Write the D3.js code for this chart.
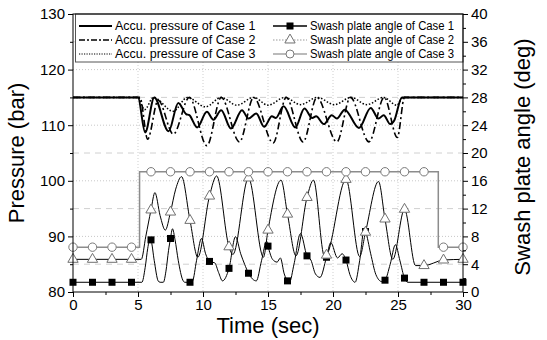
<!DOCTYPE html>
<html><head><meta charset="utf-8">
<script src="https://cdn.jsdelivr.net/npm/d3@7"></script>
<style>
body{margin:0;background:#fff}
svg{display:block}
text{font-family:Arial,"Liberation Sans",sans-serif;fill:#000}
</style>
</head><body>
<svg id="c" width="547" height="340"></svg>
<script>
// ---------- data ----------
const markerTimes = [0,1.5,3,4.5,6,7.5,9,10.5,12,13.5,15,16.5,18,19.5,21,22.5,24,25.5,27,28.5,30];

// Accumulator pressure (bar)
const pressCase1 = [[0,115],[5,115],[5.55,108.7],[6.25,115],[7.35,108.9],[8.1,114.0],[8.7,112.0],[8.95,111.8],[9.55,109.6],[10.3,112.4],[10.8,111.0],[11.4,112.7],[12.15,109.4],[13.0,112.7],[13.5,111.2],[14.1,112.1],[14.7,109.7],[15.3,111.6],[15.6,111.3],[16.2,113.4],[17.1,109.6],[17.8,113.0],[18.4,111.3],[18.7,111.6],[19.3,110.2],[19.9,111.8],[20.3,111.2],[20.9,112.8],[22.0,109.5],[22.9,113.1],[23.5,111.2],[23.9,111.8],[24.4,110.2],[24.7,110.8],[25.3,115],[30,115]];
const pressCase2 = [[0,115],[5.15,115],[5.74,107.5],[6.55,114.5],[7.72,108.4],[8.95,115],[10.3,106.3],[11.4,115],[12.8,107.0],[13.9,115],[15.4,106.8],[16.4,115],[17.7,107.0],[18.76,115],[20.3,107.0],[21.34,115],[22.77,107.0],[23.94,115],[24.95,107.8],[25.5,115],[30,115]];
const pressCase3 = [[0,115],[5.0,115],[5.5,112.8],[6.2,115],[7.7,112.5],[8.8,115],[10.2,113.3],[11.4,115],[12.6,113.6],[13.9,115],[15.0,113.6],[16.3,115],[17.5,113.7],[18.8,115],[20.1,113.7],[21.4,115],[22.6,113.7],[23.9,115],[24.9,113.6],[25.4,115],[30,115]];

// Swash plate angle (deg)
const angleCase1 = [[0,1.4],[1.5,1.4],[3,1.4],[4.5,1.4],[5.3,1.4],[5.55,3.5],[5.75,6.3],[5.92,7.7],[6,7.5],[6.25,4.5],[6.55,1.6],[6.7,1.4],[6.95,1.4],[7.15,3.0],[7.35,6.0],[7.5,7.7],[7.65,9.1],[7.85,7.5],[8.1,4.5],[8.45,1.7],[8.6,1.4],[9,1.4],[9.2,1.6],[9.5,4.5],[9.88,7.7],[10.2,5.5],[10.5,4.4],[10.9,4.2],[11.2,2.8],[11.5,1.6],[12,3.4],[12.5,7.95],[12.9,5.5],[13.2,4.0],[13.5,2.7],[14.1,1.6],[14.5,4.5],[14.9,7.3],[15,6.6],[15.35,4.7],[15.7,4.3],[15.95,4.9],[16.25,2.6],[16.5,1.6],[16.65,1.4],[17.0,4.0],[17.5,8.4],[18,5.2],[18.3,4.6],[18.65,2.6],[19.0,2.1],[19.5,5.0],[19.83,7.1],[20.35,4.9],[20.7,5.5],[21,4.6],[21.3,2.5],[21.7,1.4],[22.05,4.5],[22.4,9.0],[22.5,8.7],[22.9,5.5],[23.3,2.5],[23.75,1.5],[24,1.7],[24.4,4.0],[24.8,6.8],[25.15,4.5],[25.5,2.0],[25.75,1.4],[27,1.4],[28.5,1.4],[30,1.4]];
const angleCase2 = [[0,4.7],[1.5,4.7],[3,4.7],[4.5,4.7],[5.25,4.7],[5.6,8.0],[6,11.8],[6.3,14.3],[6.7,11.0],[7.1,8.9],[7.5,11.5],[7.9,14.8],[8.35,16.6],[9,10.3],[9.6,5.0],[10.5,13.8],[11.05,16.7],[12,6.5],[12.3,5.4],[13.5,16.4],[14.65,5.0],[15,8.9],[16,16.1],[16.5,11.2],[17.15,5.2],[18,13.6],[18.5,16.1],[19.35,5.1],[19.5,5.3],[21,16.2],[22.05,5.1],[22.5,8.6],[23.5,15.9],[24,10.5],[24.6,4.7],[25.5,11.9],[26.35,3.8],[27,3.8],[28.5,4.6],[30,4.7]];
const angleCase3 = [[0,6.45],[5.12,17.3],[28.1,6.45],[30,6.45]];
const case3Markers = [6.45,6.45,6.45,6.45,17.3,17.3,17.3,17.3,17.3,17.3,17.3,17.3,17.3,17.3,17.3,17.3,17.3,17.3,17.3,6.45,6.45];

const xTicks = [0,5,10,15,20,25,30];
const xMinor = [2.5,7.5,12.5,17.5,22.5,27.5];
const pTicks = [80,90,100,110,120,130];
const pMinor = [85,95,105,115,125];
const aTicks = [0,4,8,12,16,20,24,28,32,36,40];
const aMinor = [2,6,10,14,18,22,26,30,34,38];

const legendLeft = ["Accu. pressure of Case 1","Accu. pressure of Case 2","Accu. pressure of Case 3"];
const legendRight = ["Swash plate angle of Case 1","Swash plate angle of Case 2","Swash plate angle of Case 3"];

// ---------- layout ----------
const L=73, R=463, T=14, B=292;
const svg = d3.select("#c");
const x = d3.scaleLinear([0,30],[L,R]);
const yP = d3.scaleLinear([80,130],[B,T]);
const yA = d3.scaleLinear([0,40],[B,T]);

// grid
const g = svg.append("g");
g.selectAll(".hmaj").data(pTicks.filter(v=>v>80&&v<130)).join("line")
  .attr("x1",L).attr("x2",R).attr("y1",d=>yP(d)).attr("y2",d=>yP(d))
  .attr("stroke","#c8c8c8").attr("stroke-width",1).attr("stroke-dasharray","1,2");
g.selectAll(".hmin").data(pMinor).join("line")
  .attr("x1",L).attr("x2",R).attr("y1",d=>yP(d)).attr("y2",d=>yP(d))
  .attr("stroke","#d0d0d0").attr("stroke-width",1).attr("stroke-dasharray","6,5");
g.selectAll(".vmaj").data(xTicks.filter(v=>v>0&&v<30)).join("line")
  .attr("y1",T).attr("y2",B).attr("x1",d=>x(d)).attr("x2",d=>x(d))
  .attr("stroke","#cfcfcf").attr("stroke-width",1).attr("stroke-dasharray","1,2");

// pressure lines
const lineP = d3.line().x(d=>x(d[0])).y(d=>yP(d[1])).curve(d3.curveMonotoneX);
svg.append("path").attr("d",lineP(pressCase3)).attr("fill","none").attr("stroke","#000").attr("stroke-width",1.5).attr("stroke-dasharray","1.5,1.8");
svg.append("path").attr("d",lineP(pressCase2)).attr("fill","none").attr("stroke","#000").attr("stroke-width",1.6).attr("stroke-dasharray","7,3,2,3");
svg.append("path").attr("d",lineP(pressCase1)).attr("fill","none").attr("stroke","#000").attr("stroke-width",2);

// angle lines
const lineA = d3.line().x(d=>x(d[0])).y(d=>yA(d[1])).curve(d3.curveMonotoneX);
const stepA = d3.line().x(d=>x(d[0])).y(d=>yA(d[1])).curve(d3.curveStepAfter);
svg.append("path").attr("d",stepA(angleCase3)).attr("fill","none").attr("stroke","#8c8c8c").attr("stroke-width",1.5);
svg.append("path").attr("d",lineA(angleCase1)).attr("fill","none").attr("stroke","#000").attr("stroke-width",1);
svg.append("path").attr("d",lineA(angleCase2)).attr("fill","none").attr("stroke","#000").attr("stroke-width",1);

// markers
const m1 = angleCase1.filter(d=>markerTimes.includes(d[0]));
const m2 = angleCase2.filter(d=>markerTimes.includes(d[0]));
const m3 = markerTimes.map((t,i)=>[t,case3Markers[i]]);
svg.selectAll(".sq").data(m1).join("rect")
  .attr("x",d=>x(d[0])-3.5).attr("y",d=>yA(d[1])-3.5).attr("width",7).attr("height",7).attr("fill","#000");
const tri = d3.symbol().type(d3.symbolTriangle).size(46);
svg.selectAll(".tr").data(m2).join("path").attr("d",tri)
  .attr("transform",d=>`translate(${x(d[0])},${yA(d[1])})`)
  .attr("fill","#fff").attr("stroke","#707070").attr("stroke-width",1);
svg.selectAll(".ci").data(m3).join("circle")
  .attr("cx",d=>x(d[0])).attr("cy",d=>yA(d[1])).attr("r",4.2)
  .attr("fill","#fff").attr("stroke","#7a7a7a").attr("stroke-width",1);

// legend
const lg = svg.append("g");
lg.append("rect").attr("x",75.5).attr("y",T).attr("width",R-75.5).attr("height",48).attr("fill","#fff").attr("stroke","#555").attr("stroke-width",1);
const rows = [26,40,54];
const pStyles = [{w:2,d:null},{w:1.5,d:"6,2,2,2"},{w:1.2,d:"1.2,1.3"}];
legendLeft.forEach((s,i)=>{
  lg.append("line").attr("x1",79).attr("x2",112).attr("y1",rows[i]).attr("y2",rows[i])
    .attr("stroke","#000").attr("stroke-width",pStyles[i].w).attr("stroke-dasharray",pStyles[i].d);
  lg.append("text").attr("x",115).attr("y",rows[i]).attr("dy","0.35em").attr("font-size",12.5).text(s);
});
const aL1=273, aL2=307;
lg.append("line").attr("x1",aL1).attr("x2",aL2).attr("y1",rows[0]).attr("y2",rows[0]).attr("stroke","#000").attr("stroke-width",1.5);
lg.append("rect").attr("x",(aL1+aL2)/2-3.5).attr("y",rows[0]-3.5).attr("width",7).attr("height",7).attr("fill","#000");
lg.append("line").attr("x1",aL1).attr("x2",aL2).attr("y1",rows[1]).attr("y2",rows[1]).attr("stroke","#999").attr("stroke-width",1).attr("stroke-dasharray","1.5,1.5");
lg.append("path").attr("d",tri).attr("transform",`translate(${(aL1+aL2)/2},${rows[1]})`).attr("fill","#fff").attr("stroke","#707070");
lg.append("line").attr("x1",aL1).attr("x2",aL2).attr("y1",rows[2]).attr("y2",rows[2]).attr("stroke","#777").attr("stroke-width",1.2);
lg.append("circle").attr("cx",(aL1+aL2)/2).attr("cy",rows[2]).attr("r",4).attr("fill","#fff").attr("stroke","#7a7a7a");
legendRight.forEach((s,i)=>{
  lg.append("text").attr("x",310).attr("y",rows[i]).attr("dy","0.35em").attr("font-size",12.5)
    .attr("textLength",144).attr("lengthAdjust","spacingAndGlyphs").text(s);
});

// frame
svg.append("rect").attr("x",L).attr("y",T).attr("width",R-L).attr("height",B-T).attr("fill","none").attr("stroke","#000").attr("stroke-width",1);

// axes
function styleAxis(sel){ sel.select(".domain").remove(); sel.selectAll("text").attr("font-size",15).attr("font-family","Arial, 'Liberation Sans', sans-serif").attr("fill","#000"); sel.selectAll("line").attr("stroke","#000"); }
svg.append("g").attr("transform",`translate(${L},0)`).call(d3.axisLeft(yP).tickValues(pTicks).tickSize(5).tickPadding(3)).call(styleAxis);
svg.append("g").attr("transform",`translate(${L},0)`).call(d3.axisLeft(yP).tickValues(pMinor).tickSize(3).tickFormat("")).call(styleAxis);
svg.append("g").attr("transform",`translate(${R},0)`).call(d3.axisRight(yA).tickValues(aTicks).tickSize(5).tickPadding(3)).call(styleAxis);
svg.append("g").attr("transform",`translate(${R},0)`).call(d3.axisRight(yA).tickValues(aMinor).tickSize(3).tickFormat("")).call(styleAxis);
svg.append("g").attr("transform",`translate(0,${B})`).call(d3.axisBottom(x).tickValues(xTicks).tickSize(5).tickPadding(2)).call(styleAxis);
svg.append("g").attr("transform",`translate(0,${B})`).call(d3.axisBottom(x).tickValues(xMinor).tickSize(3).tickFormat("")).call(styleAxis);

// titles
svg.append("text").attr("transform",`translate(24,${(T+B)/2}) rotate(-90)`).attr("text-anchor","middle").attr("font-size",22).text("Pressure (bar)");
svg.append("text").attr("transform",`translate(522,${(T+B)/2+4}) rotate(-90)`).attr("text-anchor","middle").attr("dy","0.35em").attr("font-size",22).text("Swash plate angle (deg)");
svg.append("text").attr("x",(L+R)/2).attr("y",333).attr("text-anchor","middle").attr("font-size",22).text("Time (sec)");
</script>
</body></html>
